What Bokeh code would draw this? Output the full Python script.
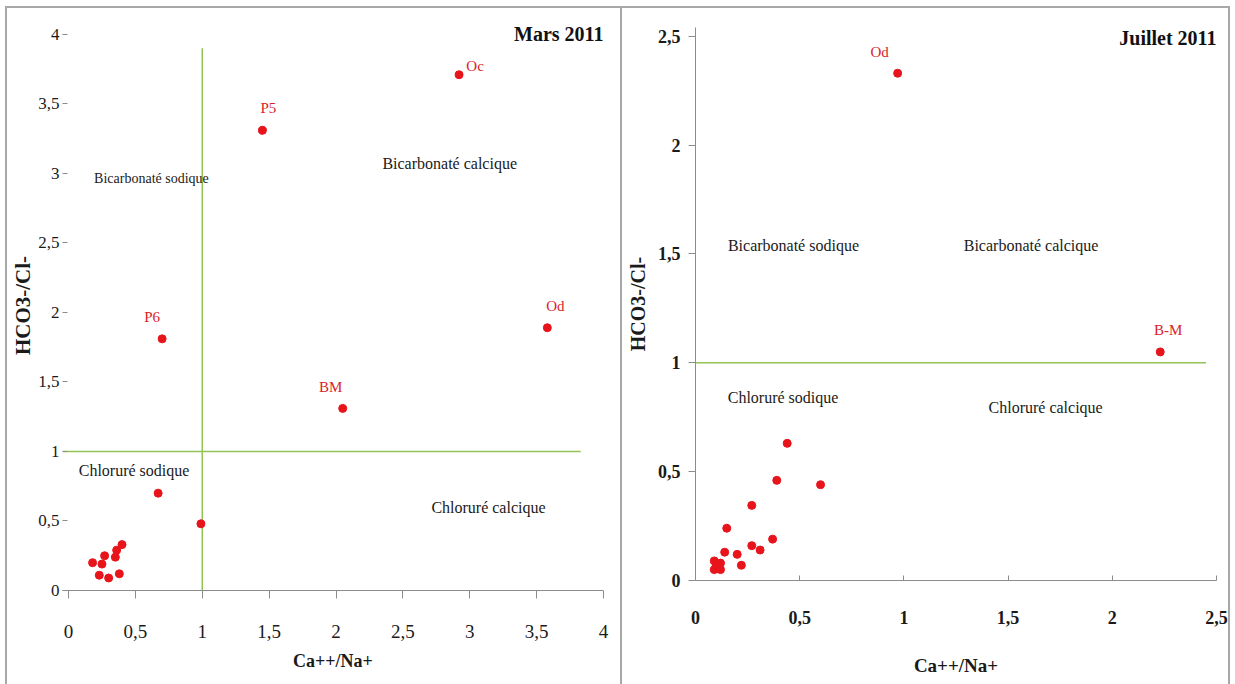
from bokeh.plotting import figure
from bokeh.models import Range1d, FixedTicker, Label, ColumnDataSource, LabelSet, Spacer
from bokeh.layouts import row, column
from bokeh.embed import file_html
from bokeh.resources import INLINE
from bokeh.core.properties import value

# ---------------- data ----------------
regions = ["Bicarbonaté sodique", "Bicarbonaté calcique", "Chloruré sodique", "Chloruré calcique"]

mars_x = [2.92, 1.45, 3.58, 0.70, 2.05, 0.67, 0.99, 0.18, 0.25, 0.27, 0.23, 0.30, 0.38, 0.35, 0.36, 0.40]
mars_y = [3.71, 3.31, 1.89, 1.81, 1.31, 0.70, 0.48, 0.20, 0.19, 0.25, 0.11, 0.09, 0.12, 0.24, 0.29, 0.33]
mars_names = ["Oc", "P5", "Od", "P6", "BM"] + [""] * 11
mars_dx = [16, 6, 8, -10, -12] + [0] * 11
mars_dy = [9, 22, 22, 22, 21] + [0] * 11
mars_reg_x = [0.62, 2.85, 0.49, 3.14]
mars_reg_y = [2.96, 3.07, 0.86, 0.60]
mars_reg_size = ["14px", "16px", "16px", "16px"]

juil_x = [0.97, 2.23, 0.44, 0.39, 0.60, 0.27, 0.15, 0.14, 0.27, 0.31, 0.37, 0.20, 0.22, 0.09, 0.09, 0.12, 0.12, 0.10]
juil_y = [2.33, 1.05, 0.63, 0.46, 0.44, 0.345, 0.24, 0.13, 0.16, 0.14, 0.19, 0.12, 0.07, 0.09, 0.05, 0.08, 0.05, 0.07]
juil_names = ["Od", "B-M"] + [""] * 16
juil_dx = [-18, 8] + [0] * 16
juil_dy = [21, 22] + [0] * 16
juil_reg_x = [0.47, 1.61, 0.42, 1.68]
juil_reg_y = [1.54, 1.54, 0.84, 0.795]
juil_reg_size = ["16px", "16px", "16px", "16px"]

mars_ticks_x = [0, 0.5, 1, 1.5, 2, 2.5, 3, 3.5, 4]
mars_ticks_y = [0, 0.5, 1, 1.5, 2, 2.5, 3, 3.5, 4]
juil_ticks = [0, 0.5, 1, 1.5, 2, 2.5]

threshold = 1
mars_vline_top = 3.9
mars_hline_end = 3.83
juil_hline_end = 2.45

FONT = "Liberation Serif"
GREEN = "#93c352"
RED = "#e8141b"
AXIS_GRAY = "#8c8c8c"
FRAME = "2px solid #a8a8a8"


def fr(v):
    return ("%g" % v).replace(".", ",")


def style_common(p):
    p.xgrid.visible = False
    p.ygrid.visible = False
    p.outline_line_color = None
    p.background_fill_color = "white"
    p.border_fill_color = "white"
    for ax in (p.xaxis[0], p.yaxis[0]):
        ax.minor_tick_line_color = None
        ax.major_label_text_font = FONT
        ax.major_label_text_color = "#1a1a1a"
        ax.axis_label_text_font = FONT
        ax.axis_label_text_font_style = "bold"
        ax.axis_label_text_color = "#1a1a1a"
        ax.axis_line_color = AXIS_GRAY
        ax.major_tick_line_color = AXIS_GRAY


# ---------------- left panel: Mars 2011 ----------------
p1 = figure(width=613, height=676, x_range=Range1d(-0.045, 4.0), y_range=Range1d(0, 4.1),
            output_backend="svg", toolbar_location=None,
            min_border_left=55, min_border_right=17, min_border_top=12, min_border_bottom=94)
style_common(p1)
p1.xaxis[0].ticker = FixedTicker(ticks=mars_ticks_x)
p1.xaxis[0].major_label_overrides = {t: fr(t) for t in mars_ticks_x}
p1.yaxis[0].ticker = FixedTicker(ticks=mars_ticks_y)
p1.yaxis[0].major_label_overrides = {t: fr(t) for t in mars_ticks_y}
p1.xaxis[0].axis_label = "Ca++/Na+"
p1.yaxis[0].axis_label = "HCO3-/Cl-"
p1.xaxis[0].major_label_text_font_size = "19px"
p1.yaxis[0].major_label_text_font_size = "17px"
p1.xaxis[0].axis_label_text_font_size = "18px"
p1.yaxis[0].axis_label_text_font_size = "21px"
p1.xaxis[0].major_tick_out = 8
p1.xaxis[0].major_tick_in = 0
p1.xaxis[0].major_label_standoff = 26
p1.xaxis[0].axis_label_standoff = 10
p1.yaxis[0].axis_line_color = None
p1.yaxis[0].major_tick_out = 0
p1.yaxis[0].major_tick_in = 5
p1.yaxis[0].major_label_standoff = 3
p1.yaxis[0].axis_label_standoff = 0

p1.segment(x0=[threshold], y0=[0], x1=[threshold], y1=[mars_vline_top], line_color=GREEN, line_width=1.5)
p1.segment(x0=[-0.045], y0=[threshold], x1=[mars_hline_end], y1=[threshold], line_color=GREEN, line_width=1.5)

src1 = ColumnDataSource(dict(x=mars_x, y=mars_y, name=mars_names, dx=mars_dx, dy=mars_dy))
p1.scatter("x", "y", source=src1, size=8, color=RED)
p1.add_layout(LabelSet(x="x", y="y", text="name", x_offset="dx", y_offset="dy", source=src1,
                       text_font=value(FONT), text_font_size="15px", text_color="#d8232a",
                       text_align="center", text_baseline="middle"))
reg1 = ColumnDataSource(dict(x=mars_reg_x, y=mars_reg_y, text=regions, size=mars_reg_size))
p1.text(x="x", y="y", text="text", source=reg1, text_font=value(FONT), text_font_size="size",
        text_color="#1a1a1a", text_align="center", text_baseline="middle")
p1.add_layout(Label(x=4.0, y=4.0, text="Mars 2011", text_font=FONT, text_font_size="20px",
                    text_font_style="bold", text_color="#111111", text_align="right",
                    text_baseline="middle"))

# ---------------- right panel: Juillet 2011 ----------------
p2 = figure(width=606, height=676, x_range=Range1d(0, 2.5), y_range=Range1d(0, 2.54),
            output_backend="svg", toolbar_location=None,
            min_border_left=73, min_border_right=12, min_border_top=19, min_border_bottom=104)
style_common(p2)
p2.xaxis[0].ticker = FixedTicker(ticks=juil_ticks)
p2.xaxis[0].major_label_overrides = {t: fr(t) for t in juil_ticks}
p2.yaxis[0].ticker = FixedTicker(ticks=juil_ticks)
p2.yaxis[0].major_label_overrides = {t: fr(t) for t in juil_ticks}
p2.xaxis[0].axis_label = "Ca++/Na+"
p2.yaxis[0].axis_label = "HCO3-/Cl-"
for ax in (p2.xaxis[0], p2.yaxis[0]):
    ax.major_label_text_font_size = "18px"
    ax.major_label_text_font_style = "bold"
p2.xaxis[0].axis_label_text_font_size = "19px"
p2.yaxis[0].axis_label_text_font_size = "20px"
p2.xaxis[0].major_tick_out = 0
p2.xaxis[0].major_tick_in = 5
p2.xaxis[0].major_label_standoff = 30
p2.xaxis[0].axis_label_standoff = 28
p2.yaxis[0].major_tick_out = 7
p2.yaxis[0].major_tick_in = 0
p2.yaxis[0].major_label_standoff = 8
p2.yaxis[0].axis_label_standoff = 6

p2.segment(x0=[0], y0=[threshold], x1=[juil_hline_end], y1=[threshold], line_color=GREEN, line_width=1.5)

src2 = ColumnDataSource(dict(x=juil_x, y=juil_y, name=juil_names, dx=juil_dx, dy=juil_dy))
p2.scatter("x", "y", source=src2, size=8, color=RED)
p2.add_layout(LabelSet(x="x", y="y", text="name", x_offset="dx", y_offset="dy", source=src2,
                       text_font=value(FONT), text_font_size="15px", text_color="#d8232a",
                       text_align="center", text_baseline="middle"))
reg2 = ColumnDataSource(dict(x=juil_reg_x, y=juil_reg_y, text=regions, size=juil_reg_size))
p2.text(x="x", y="y", text="text", source=reg2, text_font=value(FONT), text_font_size="size",
        text_color="#1a1a1a", text_align="center", text_baseline="middle")
p2.add_layout(Label(x=2.5, y=2.49, text="Juillet 2011", text_font=FONT, text_font_size="20px",
                    text_font_style="bold", text_color="#111111", text_align="right",
                    text_baseline="middle"))

left_box = column(p1, styles={"border-left": FRAME, "border-top": FRAME, "border-right": FRAME})
right_box = column(p2, styles={"border-top": FRAME, "border-right": FRAME})
layout = column(Spacer(height=6), row(Spacer(width=5), left_box, right_box))
open("out.html", "w").write(file_html(layout, INLINE))
